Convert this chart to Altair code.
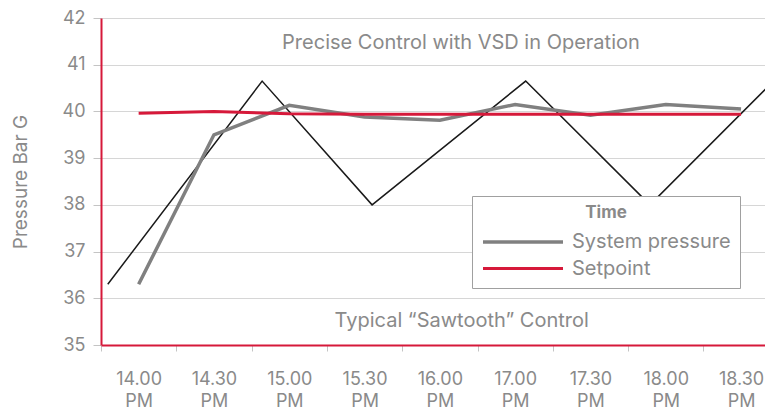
import altair as alt
import pandas as pd

# ---- data ----
times = ["14.00 PM", "14.30 PM", "15.00 PM", "15.30 PM", "16.00 PM",
         "17.00 PM", "17.30 PM", "18.00 PM", "18.30 PM"]
system_pressure = [36.3, 39.5, 40.13, 39.88, 39.81, 40.15, 39.92, 40.15, 40.05]
setpoint = [39.96, 40.0, 39.95, 39.94, 39.94, 39.94, 39.94, 39.94, 39.94]

# "sawtooth" trace (positions in time-slot units from the left edge)
saw_pos = [0.09, 2.14, 3.6, 5.64, 7.29, 8.92]
saw_val = [36.3, 40.65, 38.0, 40.65, 38.0, 40.63]

ann_text = ["Precise Control with VSD in Operation", "Typical \u201cSawtooth\u201d Control"]
ann_pos = [4.78, 4.79]
ann_val = [41.47, 35.51]

series_names = ["System pressure", "Setpoint"]
series_colors = ["#808080", "#d6193a"]

FONT = "Inter"
TXT = "#8a8a8a"
RED = "#d6193a"
SLOT_PX = 75.3           # width of one time slot
N_SLOTS = len(times)

rows = []
for t, s, p in zip(times, system_pressure, setpoint):
    rows.append({"time": t, "series": "System pressure", "value": s})
    rows.append({"time": t, "series": "Setpoint", "value": p})
df_lines = pd.DataFrame(rows)
df_saw = pd.DataFrame({"pos": saw_pos, "value": saw_val, "order": list(range(len(saw_pos)))})
df_ann = pd.DataFrame({"text": ann_text, "pos": ann_pos, "value": ann_val})

x_range = [0, SLOT_PX * N_SLOTS]

y_scale = alt.Scale(domain=[35, 42], nice=False, zero=False)
y_axis = alt.Axis(values=[35, 36, 37, 38, 39, 40, 41, 42], grid=True, gridColor="#d6d6d6",
                  domainColor=RED, domainWidth=2, tickColor="#c4c4c4", tickSize=8,
                  labelFontSize=18, labelColor=TXT, labelFont=FONT, labelPadding=8,
                  title="Pressure Bar G", titleFontSize=19, titleFontWeight="normal",
                  titleColor=TXT, titleFont=FONT, titlePadding=32)

q_scale = alt.Scale(domain=[0, N_SLOTS], nice=False, zero=False, range=x_range)

saw = alt.Chart(df_saw).mark_line(color="#1a1a1a", strokeWidth=1.5).encode(
    x=alt.X("pos:Q", scale=q_scale, axis=None),
    y=alt.Y("value:Q", scale=y_scale, axis=y_axis),
    order="order:Q",
)

lines = alt.Chart(df_lines).mark_line().encode(
    x=alt.X("time:N", sort=times, title=None,
            scale=alt.Scale(paddingInner=0, paddingOuter=0, range=x_range),
            axis=alt.Axis(tickBand="extent", labelAngle=0, domainColor=RED, domainWidth=2,
                          tickColor="#c4c4c4", tickSize=6, labelFontSize=18, labelColor=TXT,
                          labelFont=FONT, labelPadding=19, labelLineHeight=22,
                          labelBaseline="top", grid=False,
                          labelExpr="split(datum.label, ' ')")),
    y=alt.Y("value:Q", scale=y_scale, axis=y_axis, title="Pressure Bar G"),
    color=alt.Color("series:N", sort=series_names,
                    scale=alt.Scale(domain=series_names, range=series_colors),
                    legend=alt.Legend(orient="none", legendX=371, legendY=178, title="Time",
                                      titleFontWeight="bold", titleFontSize=17, titleColor=TXT,
                                      titleFont=FONT, titleAnchor="middle", titlePadding=8,
                                      fillColor="white", strokeColor="#a0a0a0", padding=9,
                                      symbolType="M-1,0H7", symbolSize=400,
                                      symbolStrokeWidth=3, labelFontSize=20, labelColor=TXT,
                                      labelFont=FONT, labelOffset=67, rowPadding=5)),
    strokeWidth=alt.StrokeWidth("series:N", sort=series_names,
                                scale=alt.Scale(domain=series_names, range=[3.5, 3]),
                                legend=None),
)

ann = alt.Chart(df_ann).mark_text(fontSize=20, font=FONT, color=TXT).encode(
    x=alt.X("pos:Q", scale=q_scale, axis=None),
    y=alt.Y("value:Q", scale=y_scale, axis=y_axis),
    text="text:N",
)

chart = alt.layer(saw, lines, ann).resolve_scale(x="independent").properties(
    width=664, height=327,
    autosize=alt.AutoSizeParams(type="none"),
    padding={"left": 93, "top": 10, "right": 0, "bottom": 72},
).configure_view(stroke=None).configure(font=FONT)

chart.save("out.html", embed_options={"renderer": "svg", "actions": False})
